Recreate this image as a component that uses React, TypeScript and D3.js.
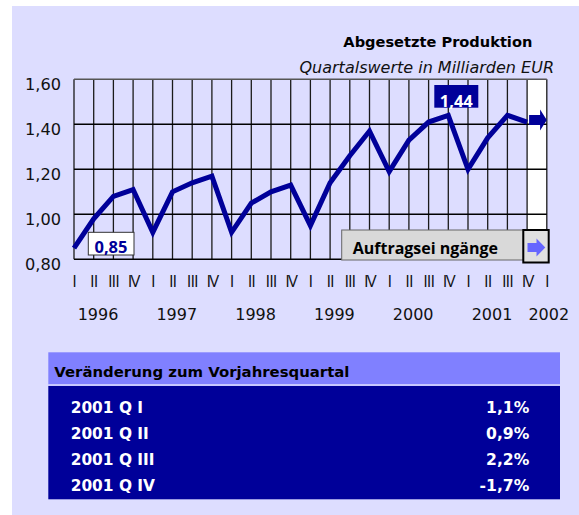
import React from "react";
import * as d3 from "d3";

// ---- data ----
const quarterLabels = [
  "I", "II", "III", "IV", "I", "II", "III", "IV", "I", "II", "III", "IV",
  "I", "II", "III", "IV", "I", "II", "III", "IV", "I", "II", "III", "IV", "I",
];
const yearLabels = ["1996", "1997", "1998", "1999", "2000", "2001", "2002"];
const production = [
  0.85, 0.98, 1.08, 1.11, // 1996
  0.92, 1.10, 1.14, 1.17, // 1997
  0.92, 1.05, 1.10, 1.13, // 1998
  0.95, 1.14, 1.26, 1.37, // 1999
  1.19, 1.33, 1.41, 1.44, // 2000
  1.20, 1.34, 1.44, 1.41, // 2001
];
const yTicks = [0.8, 1.0, 1.2, 1.4, 1.6];
const tableLabels = ["2001 Q I", "2001 Q II", "2001 Q III", "2001 Q IV"];
const tableValues = ["1,1%", "0,9%", "2,2%", "-1,7%"];
const title = "Abgesetzte Produktion";
const subtitle = "Quartalswerte in Milliarden EUR";
const tableTitle = "Veränderung zum Vorjahresquartal";
const buttonLabel = "Auftragsei ngänge";

const W = 579;
const H = 515;
const NAVY = "#000099";
const BG = "#ddddff";
const OPEN = "'Open Sans', 'Noto Sans', sans-serif";
const DEJA = "'DejaVu Sans', Verdana, sans-serif";

export default function App() {
  const x = d3.scaleLinear().domain([0, 24]).range([74, 546.8]);
  const y = d3.scaleLinear().domain([0.8, 1.6]).range([259.3, 79.3]);
  const fmt = (v: number) => d3.format(".2f")(v).replace(".", ",");

  const line = d3
    .line<number>()
    .x((_, i) => x(i))
    .y((d) => y(d));

  const n = production.length;
  const last = production[n - 1];
  const lx = x(n - 1);
  const ly = y(last) - 2;
  const arrowPath = `M${lx + 2},${ly - 5} L${lx + 13},${ly - 5} L${lx + 13},${ly - 10.5} L${x(n)},${ly} L${lx + 13},${ly + 10.5} L${lx + 13},${ly + 5} L${lx + 2},${ly + 5} Z`;

  const firstIdx = 0;
  const maxIdx = production.indexOf(d3.max(production) as number);

  // button
  const bx = 341.7, by = 230, bw = 181.6, bh = 30;
  const sqx = 523.3, sqy = 230, sqw = 25.4, sqh = 32.5;
  const acy = 247.5;
  const btnArrow = `M527.5,${acy - 4.5} L536.5,${acy - 4.5} L536.5,${acy - 9} L545.3,${acy} L536.5,${acy + 9} L536.5,${acy + 4.5} L527.5,${acy + 4.5} Z`;

  return (
    <svg
      width={W}
      height={H}
      style={{ position: "absolute", left: 0, top: 0, fontFamily: OPEN }}
    >
      <rect x={0} y={0} width={W} height={H} fill="#ffffff" />
      <rect x={12} y={6} width={W - 12} height={H - 6} fill={BG} />

      {/* titles */}
      <text x={532.3} y={47.3} textAnchor="end" fontFamily={DEJA} fontSize={14.6} fontWeight="bold" fill="#000">
        {title}
      </text>
      <text x={554} y={72.5} textAnchor="end" fontFamily={DEJA} fontSize={16} fontStyle="italic" fill="#111">
        {subtitle}
      </text>

      {/* white last column */}
      <rect x={x(23)} y={y(1.6)} width={x(24) - x(23)} height={y(0.8) - y(1.6)} fill="#ffffff" />

      {/* vertical grid */}
      {quarterLabels.map((_, i) => (
        <line key={"v" + i} x1={x(i)} x2={x(i)} y1={y(1.6)} y2={y(0.8)} stroke="#1a1a1a" strokeWidth={1.3} />
      ))}
      {/* horizontal grid */}
      {yTicks.map((t) => (
        <line key={"h" + t} x1={x(0)} x2={x(24)} y1={y(t)} y2={y(t)} stroke={t === 1.6 ? "#555" : "#000"} strokeWidth={1.5} />
      ))}

      {/* y labels */}
      {yTicks.map((t) => (
        <text key={"yl" + t} x={61} y={y(t) + 11} textAnchor="end" fontFamily={DEJA} fontSize={16.2} fill="#111">
          {fmt(t)}
        </text>
      ))}

      {/* x quarter labels */}
      {quarterLabels.map((q, i) => (
        <text key={"q" + i} x={x(i)} y={286.5} textAnchor="middle" fontSize={16.5} fill="#111" letterSpacing={q === "IV" ? -1.8 : -1}>
          {q}
        </text>
      ))}
      {/* year labels */}
      {yearLabels.map((yr, k) => (
        <text
          key={"y" + yr}
          x={k < 6 ? x(k * 4) + 24 : x(k * 4) + 2}
          y={319.5}
          textAnchor="middle"
          fontFamily={DEJA}
          fontSize={16}
          fill="#111"
        >
          {yr}
        </text>
      ))}

      {/* data line */}
      <path d={line(production) || ""} fill="none" stroke={NAVY} strokeWidth={5} strokeLinejoin="miter" strokeMiterlimit={3} />
      <path d={arrowPath} fill={NAVY} />

      {/* first value label */}
      <rect x={x(firstIdx) + 14.3} y={232.3} width={45.7} height={22.7} fill="#ffffff" stroke="#333" strokeWidth={1} />
      <text x={x(firstIdx) + 37} y={253} textAnchor="middle" fontSize={16.5} fontWeight="bold" fill={NAVY}>
        {fmt(production[firstIdx])}
      </text>

      {/* max value label */}
      <rect x={x(maxIdx) - 14} y={y(production[maxIdx]) - 30.3} width={44} height={22.7} fill={NAVY} />
      <text x={x(maxIdx) + 8} y={y(production[maxIdx]) - 8.5} textAnchor="middle" fontSize={16.5} fontWeight="bold" fill="#ffffff">
        {fmt(production[maxIdx])}
      </text>

      {/* button */}
      <rect x={bx} y={by} width={bw} height={bh} fill="#d9d9d9" stroke="#666" strokeWidth={1} />
      <text x={352.7} y={254.3} fontSize={16} fontWeight="bold" fill="#000">
        {buttonLabel}
      </text>
      <rect x={sqx} y={sqy} width={sqw} height={sqh} fill="#e0e0e0" stroke="#000" strokeWidth={2} />
      <path d={btnArrow} fill="#6666ff" />

      {/* table */}
      <rect x={48.3} y={352.3} width={511.7} height={32} fill="#8080ff" />
      <rect x={48.3} y={384.3} width={511.7} height={1.7} fill="#c8c8ff" />
      <rect x={48.3} y={386} width={511.7} height={113.3} fill={NAVY} />
      <text x={54.3} y={376.7} fontFamily={DEJA} fontSize={14.9} fontWeight="bold" fill="#000">
        {tableTitle}
      </text>
      {tableLabels.map((l, i) => (
        <g key={"r" + i}>
          <text x={70.7} y={412.7 + i * 26.2} fontFamily={DEJA} fontSize={15.4} fontWeight="bold" fill="#ffffff">
            {l}
          </text>
          <text x={529.3} y={412.7 + i * 26.2} textAnchor="end" fontFamily={DEJA} fontSize={15.6} fontWeight="bold" fill="#ffffff">
            {tableValues[i]}
          </text>
        </g>
      ))}
    </svg>
  );
}
